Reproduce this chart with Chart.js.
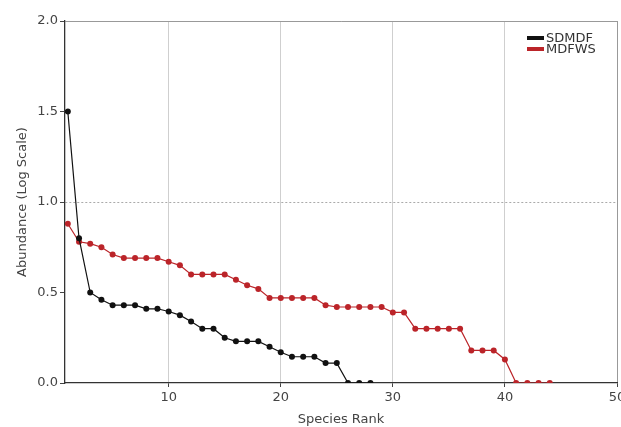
<!DOCTYPE html>
<html>
<head>
<meta charset="utf-8">
<script src="https://cdn.jsdelivr.net/npm/chart.js@4.4.1/dist/chart.umd.min.js"></script>
<style>
  html, body { margin: 0; padding: 0; background: #fff; }
  #wrap { width: 621px; height: 427px; }
</style>
</head>
<body>
<div id="wrap"><canvas id="chart1" width="621" height="427"></canvas></div>
<script>
// --- data ---
const seriesNames = ['SDMDF', 'MDFWS'];

const sdmdf = [1.5, 0.8, 0.5, 0.46, 0.43, 0.43, 0.43, 0.41, 0.41, 0.395,
    0.375, 0.34, 0.3, 0.3, 0.25, 0.23, 0.23, 0.23, 0.2, 0.17,
    0.145, 0.145, 0.145, 0.11, 0.11, 0, 0, 0];

const mdfws = [0.88, 0.78, 0.77, 0.75, 0.71, 0.69, 0.69, 0.69, 0.69, 0.67,
    0.65, 0.6, 0.6, 0.6, 0.6, 0.57, 0.54, 0.52, 0.47, 0.47,
    0.47, 0.47, 0.47, 0.43, 0.42, 0.42, 0.42, 0.42, 0.42, 0.39,
    0.39, 0.3, 0.3, 0.3, 0.3, 0.3, 0.18, 0.18, 0.18, 0.13,
    0, 0, 0, 0];

const xTicks = [10, 20, 30, 40, 50];

const toPoints = arr => arr.map((v, i) => ({ x: i + 1, y: v }));

const FONT = '"DejaVu Sans", Verdana, sans-serif';

// --- small legend drawn in the top right corner of the plot ---
const cornerLegend = {
    id: 'cornerLegend',
    afterDraw(chart) {
        const c = chart.ctx;
        c.save();
        c.font = '13px ' + FONT;
        c.textBaseline = 'middle';
        chart.data.datasets.forEach((ds, i) => {
            const y = 38 + i * 11;
            c.fillStyle = ds.borderColor;
            c.fillRect(527, y - 2, 17, 4);
            c.fillStyle = '#333';
            c.fillText(ds.label, 546, y + 1);
        });
        c.restore();
    }
};

const ctx1 = document.getElementById('chart1').getContext('2d');

const config1 = {
    type: 'line',
    data: {
        datasets: [
            {
                label: seriesNames[0],
                data: toPoints(sdmdf),
                borderColor: '#111111',
                backgroundColor: '#111111',
                borderWidth: 1.2,
                pointRadius: 3,
                pointBorderWidth: 0,
                fill: false
            },
            {
                label: seriesNames[1],
                data: toPoints(mdfws),
                borderColor: '#bb2429',
                backgroundColor: '#bb2429',
                borderWidth: 1.2,
                pointRadius: 3,
                pointBorderWidth: 0,
                fill: false
            }
        ]
    },
    options: {
        animation: false,
        responsive: false,
        devicePixelRatio: 1,
        layout: { padding: { top: 21, right: 4, left: 0, bottom: 0 } },
        plugins: {
            legend: { display: false },
            tooltip: { enabled: false }
        },
        scales: {
            x: {
                type: 'linear',
                min: 0.75,
                max: 50,
                afterBuildTicks: s => { s.ticks = xTicks.map(v => ({ value: v })); },
                afterFit: s => { s.height = 44; s.paddingLeft = 0; s.paddingRight = 0; },
                grid: {
                    color: c => c.tick && c.tick.value === 50 ? '#999' : '#cfcfcf',
                    lineWidth: 1,
                    tickColor: '#444',
                    tickLength: 4
                },
                border: { display: true, color: '#333', width: 1.3 },
                ticks: {
                    color: '#444',
                    padding: 3,
                    maxRotation: 0,
                    font: { family: FONT, size: 13 }
                },
                title: {
                    display: true,
                    text: 'Species Rank',
                    color: '#444',
                    padding: { top: 2, bottom: 0 },
                    font: { family: FONT, size: 13 }
                }
            },
            y: {
                min: 0,
                max: 2,
                afterFit: s => { s.width = 65; s.paddingTop = 0; s.paddingBottom = 0; },
                grid: {
                    color: c => {
                        if (!c.tick) return 'rgba(0,0,0,0)';
                        if (c.tick.value === 1) return '#aaaaaa';
                        if (c.tick.value === 2) return '#999';
                        return 'rgba(0,0,0,0)';
                    },
                    lineWidth: 1,
                    tickColor: '#444',
                    tickLength: 5
                },
                border: {
                    display: true,
                    color: '#333',
                    width: 1.3,
                    dash: c => c.tick && c.tick.value === 1 ? [2, 2] : []
                },
                ticks: {
                    stepSize: 0.5,
                    color: '#444',
                    padding: 2,
                    callback: v => Number(v).toFixed(1),
                    font: { family: FONT, size: 13 }
                },
                title: {
                    display: true,
                    text: 'Abundance (Log Scale)',
                    color: '#444',
                    padding: { top: 15, bottom: 0 },
                    font: { family: FONT, size: 13 }
                }
            }
        }
    },
    plugins: [cornerLegend]
};

const chart1 = new Chart(ctx1, config1);
</script>
</body>
</html>
